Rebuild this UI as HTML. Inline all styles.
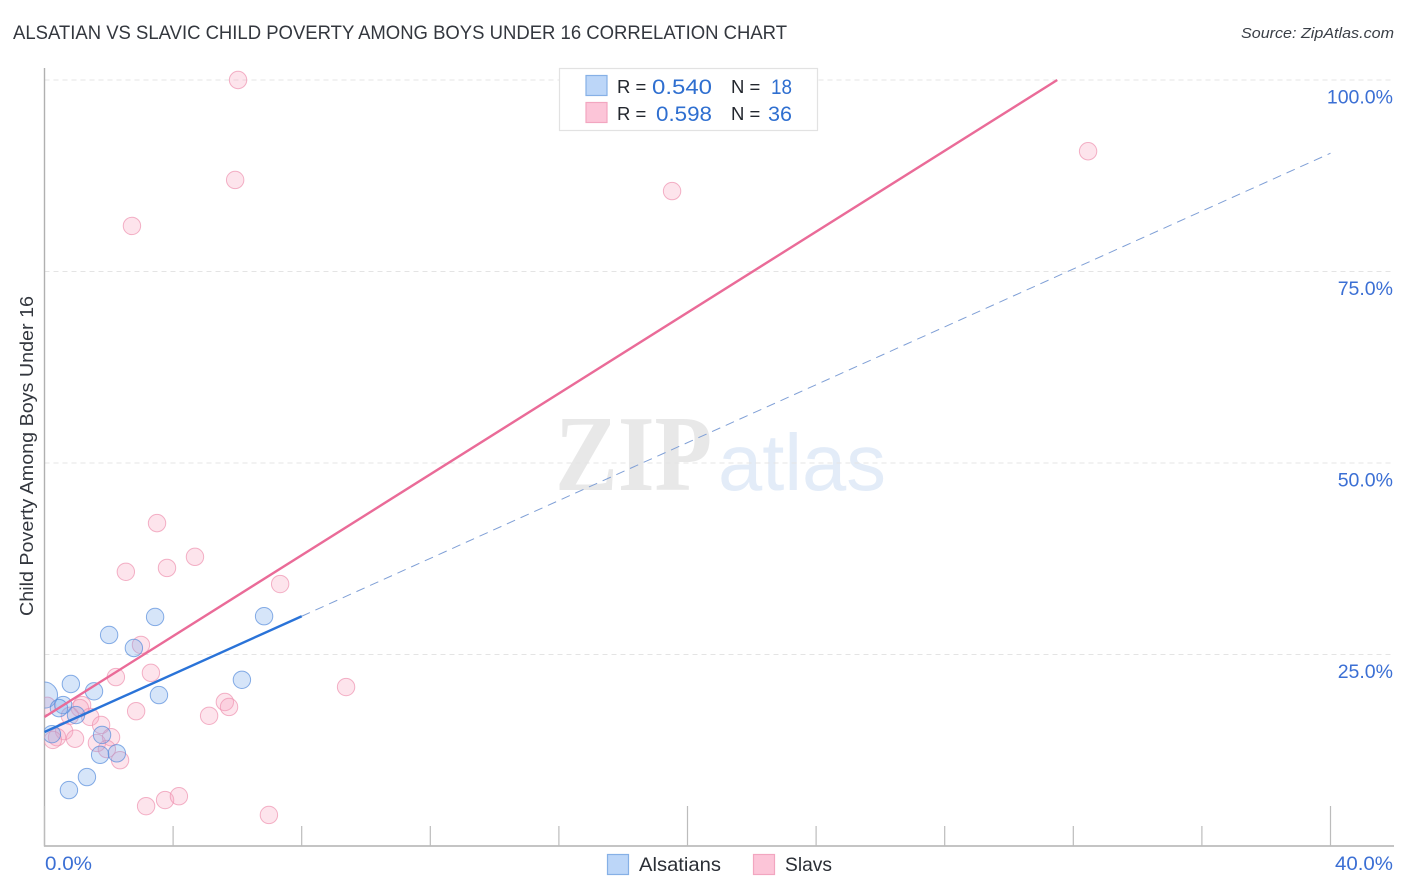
<!DOCTYPE html>
<html>
<head>
<meta charset="utf-8">
<style>
html,body{margin:0;padding:0;background:#fff;width:1406px;height:892px;overflow:hidden}
svg{display:block;font-family:"Liberation Sans",sans-serif}
</style>
</head>
<body>
<svg id="chart" width="1406" height="892" viewBox="0 0 1406 892" xmlns="http://www.w3.org/2000/svg">
  <defs><clipPath id="plot-clip"><rect x="44.5" y="60" width="1350" height="786"/></clipPath></defs>
  <text x="13" y="39" font-size="19" fill="#33373e" textLength="774" lengthAdjust="spacingAndGlyphs">ALSATIAN VS SLAVIC CHILD POVERTY AMONG BOYS UNDER 16 CORRELATION CHART</text>
  <text x="1241" y="38" font-size="15" font-style="italic" fill="#3a3f47" textLength="153" lengthAdjust="spacingAndGlyphs">Source: ZipAtlas.com</text>
  <g>
    <text x="555" y="490" font-family="'Liberation Serif',serif" font-weight="bold" font-size="108" fill="#e8e8e8" textLength="157" lengthAdjust="spacingAndGlyphs">ZIP</text>
    <text x="718" y="490" font-size="80" fill="#e3ecf8" textLength="168" lengthAdjust="spacingAndGlyphs">atlas</text>
  </g>
  <g id="grid"></g>
  <g id="axes"></g>
  <g id="points" clip-path="url(#plot-clip)"></g>
  <g id="trends"></g>
  <text transform="translate(33,456) rotate(-90)" font-size="18.5" fill="#33373e" text-anchor="middle" textLength="320" lengthAdjust="spacingAndGlyphs">Child Poverty Among Boys Under 16</text>
  <g>
    <rect x="559.5" y="68.5" width="258" height="62" fill="#fff" stroke="#e2e2e2" stroke-width="1.2"/>
    <rect x="586" y="75.5" width="21" height="20" fill="#bcd6f8" stroke="#86b0e6" stroke-width="1.2"/>
    <rect x="586" y="102.5" width="21" height="20" fill="#fcc5d8" stroke="#f2a6c0" stroke-width="1.2"/>
    <text x="617" y="93" font-size="18.5" fill="#23272e">R =</text>
    <text x="652" y="94" font-size="21" fill="#2f6fd0" textLength="60" lengthAdjust="spacingAndGlyphs">0.540</text>
    <text x="731" y="93" font-size="18.5" fill="#23272e">N =</text>
    <text x="771" y="94" font-size="21" fill="#2f6fd0" textLength="21" lengthAdjust="spacingAndGlyphs">18</text>
    <text x="617" y="120" font-size="18.5" fill="#23272e">R =</text>
    <text x="656" y="121" font-size="21" fill="#2f6fd0" textLength="56" lengthAdjust="spacingAndGlyphs">0.598</text>
    <text x="731" y="120" font-size="18.5" fill="#23272e">N =</text>
    <text x="768" y="121" font-size="21" fill="#2f6fd0" textLength="24" lengthAdjust="spacingAndGlyphs">36</text>
  </g>
  <g>
    <rect x="607.5" y="854.5" width="21" height="20" fill="#bcd6f8" stroke="#86b0e6" stroke-width="1.2"/>
    <text x="639" y="871" font-size="19.5" fill="#2b2f36" textLength="82" lengthAdjust="spacingAndGlyphs">Alsatians</text>
    <rect x="753.5" y="854.5" width="21" height="20" fill="#fcc5d8" stroke="#f2a6c0" stroke-width="1.2"/>
    <text x="785" y="871" font-size="19.5" fill="#2b2f36" textLength="47" lengthAdjust="spacingAndGlyphs">Slavs</text>
  </g>
</svg>
<script>
// Data (percent values)
const alsatianX = [0, 0.82, 1.54, 0.58, 0.45, 0.98, 0.23, 1.79, 2.25, 1.73, 1.32, 0.76, 2.01, 2.78, 3.44, 3.56, 6.14, 6.83];
const alsatianY = [19.7, 21.15, 20.2, 18.4, 18.0, 17.1, 14.6, 14.5, 12.1, 11.9, 9.0, 7.3, 27.55, 25.85, 29.9, 19.7, 21.7, 30.0];
const alsatianWeight = [1.5, 1, 1, 1, 1, 1, 1, 1, 1, 1, 1, 1, 1, 1, 1, 1, 1, 1];
const slavX = [6.02, 5.93, 2.72, 19.52, 32.46, 3.5, 4.68, 3.81, 2.53, 7.33, 3.0, 3.31, 2.22, 9.38, 5.61, 5.74, 5.12, 2.85, 1.17, 1.1, 1.42, 1.76, 0.79, 0.61, 0.95, 2.07, 1.63, 1.94, 2.35, 0.39, 0.26, 3.16, 3.75, 4.18, 6.98, 0.08];
const slavY = [100, 86.95, 80.95, 85.5, 90.7, 42.15, 37.75, 36.3, 35.8, 34.2, 26.25, 22.6, 22.05, 20.75, 18.8, 18.15, 17.0, 17.6, 18.4, 18.0, 16.85, 15.8, 17.0, 15.0, 14.0, 14.2, 13.45, 12.65, 11.2, 14.2, 13.85, 5.2, 6.0, 6.5, 4.05, 18.3];
const alsatianTrend = [14.88, 1.889];
const slavTrend = [16.84, 2.64];
const alsatianSolidEnd = 8;
const alsatianDashedEnd = 40;
const slavTrendEndY = 100;
const yTicks = [25, 50, 75, 100];
const yTickLabels = ["25.0%", "50.0%", "75.0%", "100.0%"];
const xTicks = [0, 4, 8, 12, 16, 20, 24, 28, 32, 36, 40];
const xMajorTicks = [0, 20, 40];
const xEdgeLabels = ["0.0%", "40.0%"];

const NS = "http://www.w3.org/2000/svg";
const sx = v => 44.5 + v * 32.15;
const sy = v => 846 - v * 7.66;
function mk(parent, tag, attrs) {
  const el = document.createElementNS(NS, tag);
  for (const k in attrs) el.setAttribute(k, attrs[k]);
  parent.appendChild(el);
  return el;
}
const grid = document.getElementById("grid");
const axes = document.getElementById("axes");
const points = document.getElementById("points");
const trends = document.getElementById("trends");

yTicks.forEach((t, i) => {
  const line = mk(grid, "line", {x1: 44.5, x2: 1394, y1: sy(t), y2: sy(t), stroke: "#e4e4e4", "stroke-width": 1, "stroke-dasharray": "5 4"});
  
  
  const label = mk(axes, "text", {x: 1393, y: sy(t) + 23.5, "font-size": 19.5, fill: "#3b6fd4", "text-anchor": "end"});
  label.textContent = yTickLabels[i];
  
  
});

const yAxis = mk(axes, "line", {x1: 44.5, x2: 44.5, y1: 68, y2: 846.5, stroke: "#b0b0b0", "stroke-width": 1.4});


const xAxis = mk(axes, "line", {x1: 44, x2: 1394, y1: 846, y2: 846, stroke: "#b0b0b0", "stroke-width": 1.4});



xTicks.forEach(t => {
  const top = xMajorTicks.includes(t) ? 806 : 826;
  const tick = mk(axes, "line", {x1: sx(t), x2: sx(t), y1: top, y2: 846, stroke: "#bcbcbc", "stroke-width": 1.2});
  
  
});

const xLabelStart = mk(axes, "text", {x: 45, y: 870, "font-size": 19.5, fill: "#3b6fd4", textLength: 47, lengthAdjust: "spacingAndGlyphs"});
xLabelStart.textContent = xEdgeLabels[0];


const xLabelEnd = mk(axes, "text", {x: 1335, y: 870, "font-size": 19.5, fill: "#3b6fd4", textLength: 58, lengthAdjust: "spacingAndGlyphs"});
xLabelEnd.textContent = xEdgeLabels[1];



slavX.forEach((x, i) => {
  const c = mk(points, "circle", {cx: sx(x), cy: sy(slavY[i]), r: 8.7, fill: "rgba(248,165,192,0.3)", stroke: "rgba(238,145,175,0.7)", "stroke-width": 1});
  
  
});
alsatianX.forEach((x, i) => {
  const c = mk(points, "circle", {cx: sx(x), cy: sy(alsatianY[i]), r: 8.7 * alsatianWeight[i], fill: "rgba(120,170,235,0.3)", stroke: "rgba(85,140,220,0.7)", "stroke-width": 1});
  
  
});

const trendY = (tr, x) => tr[0] + tr[1] * x;
const dashed = mk(trends, "line", {x1: sx(alsatianSolidEnd), y1: sy(trendY(alsatianTrend, alsatianSolidEnd)), x2: sx(alsatianDashedEnd), y2: sy(trendY(alsatianTrend, alsatianDashedEnd)), stroke: "#7f9fd6", "stroke-width": 1, "stroke-dasharray": "9 6"});


const solidBlue = mk(trends, "line", {x1: sx(0), y1: sy(trendY(alsatianTrend, 0)), x2: sx(alsatianSolidEnd), y2: sy(trendY(alsatianTrend, alsatianSolidEnd)), stroke: "#2a73d8", "stroke-width": 2.4});


const slavEndX = (slavTrendEndY - slavTrend[0]) / slavTrend[1];
const solidPink = mk(trends, "line", {x1: sx(0), y1: sy(trendY(slavTrend, 0)), x2: sx(slavEndX), y2: sy(slavTrendEndY), stroke: "#ea6b98", "stroke-width": 2.4});


</script>
</body>
</html>
